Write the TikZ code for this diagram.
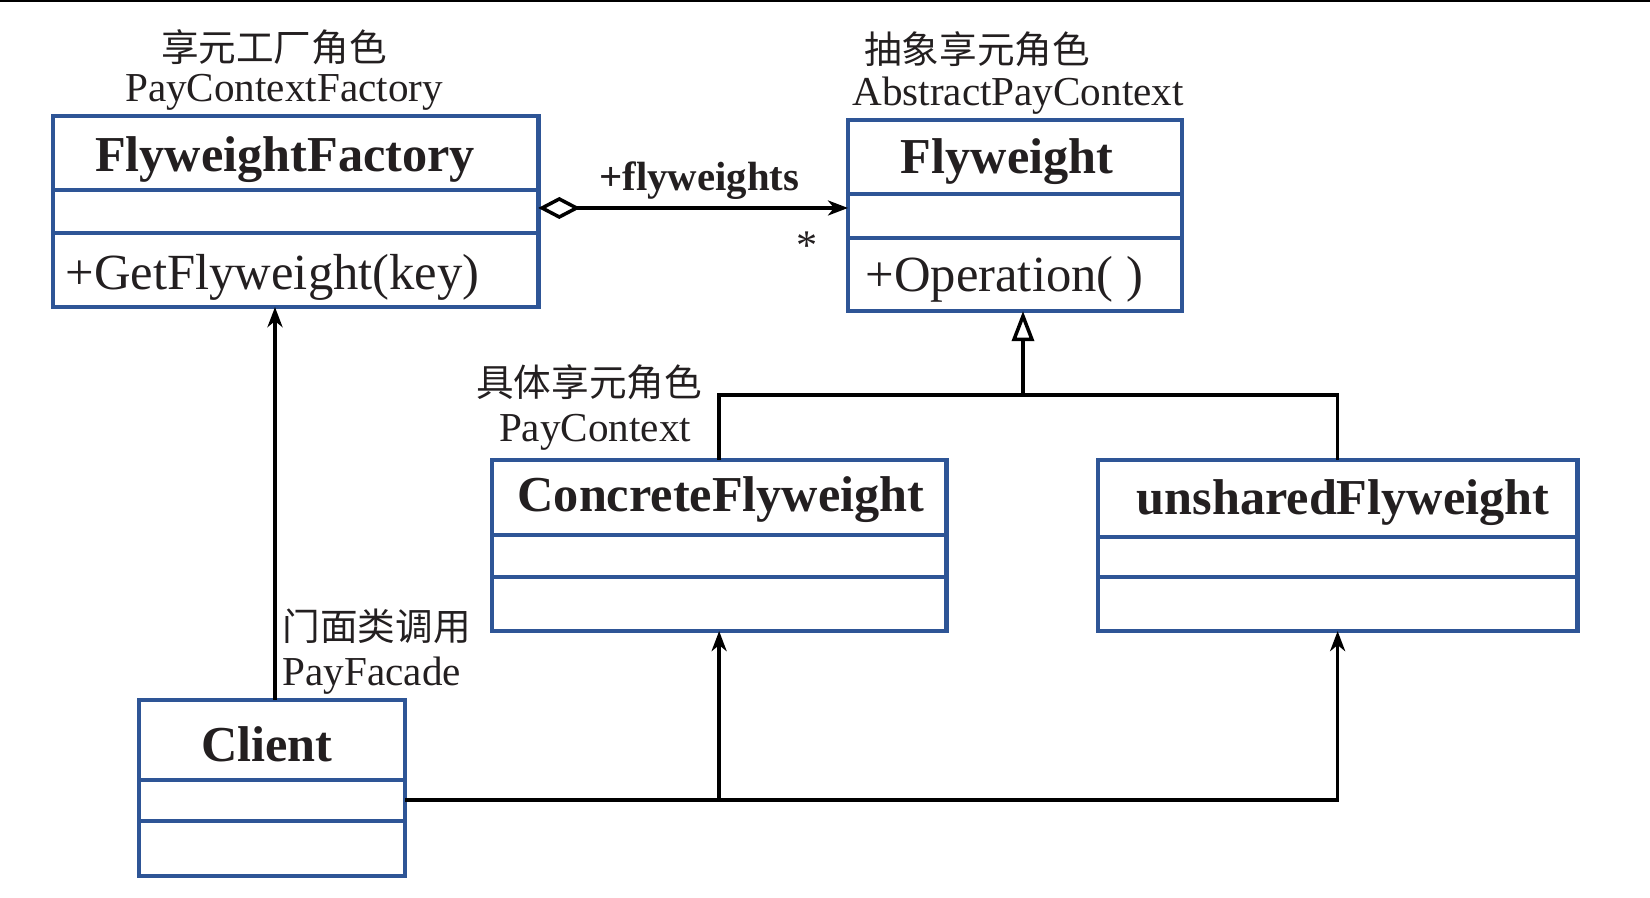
\documentclass[tikz,border=0pt]{standalone}
\usepackage{fontspec}
\setmainfont{Liberation Serif}
\newfontfamily\cjk{Noto Sans CJK SC}
\usetikzlibrary{arrows.meta,positioning}
\definecolor{boxblue}{RGB}{46,85,150}
\definecolor{ink}{RGB}{35,31,32}

\begin{document}
\begin{tikzpicture}[x=0.01cm,y=-0.01cm,>={Stealth[length=0.2cm,width=0.15cm,inset=0.06cm]},
  cls/.style={draw=boxblue,line width=1.3pt,anchor=north west,inner sep=0pt,outer sep=0pt},
  div/.style={draw=boxblue,line width=1.3pt},
  ttl/.style={font=\fontsize{14.3}{16}\selectfont\bfseries,text=ink,anchor=base,inner sep=0pt},
  mth/.style={font=\fontsize{14.4}{16}\selectfont,text=ink,anchor=base west,inner sep=0pt},
  note/.style={font=\fontsize{11.7}{13}\selectfont,text=ink,anchor=base,inner sep=0pt},
  role/.style={font=\cjk\fontsize{10.7}{12}\selectfont,text=ink,inner sep=0pt},
  link/.style={draw=black,line width=1pt}]
\useasboundingbox (0,0) rectangle (1650,898);
\draw[black,line width=0.6pt] (0,1) -- (1650,1);

% classes
\node[cls,minimum width=4.85cm,minimum height=1.91cm] (fact) at (53,116) {};
\draw[div] (fact.west |- 0,190) -- (fact.east |- 0,190);
\draw[div] (fact.west |- 0,233) -- (fact.east |- 0,233);
\node[ttl] (fact-t) at (285,172) {FlyweightFactory};
\node[mth] (fact-m) at (65,290) {+GetFlyweight(key)};

\node[cls,minimum width=3.34cm,minimum height=1.91cm] (fly) at (848,120) {};
\draw[div] (fly.west |- 0,194) -- (fly.east |- 0,194);
\draw[div] (fly.west |- 0,238) -- (fly.east |- 0,238);
\node[ttl] (fly-t) at (1007,174) {Flyweight};
\node[mth] (fly-m) at (865,292) {+Operation( )};

\node[cls,minimum width=4.54cm,minimum height=1.71cm] (conc) at (492,460) {};
\draw[div] (conc.west |- 0,535) -- (conc.east |- 0,535);
\draw[div] (conc.west |- 0,577) -- (conc.east |- 0,577);
\node[ttl] (conc-t) at (721,512) {ConcreteFlyweight};

\node[cls,minimum width=4.79cm,minimum height=1.71cm] (uns) at (1098,460) {};
\draw[div] (uns.west |- 0,537) -- (uns.east |- 0,537);
\draw[div] (uns.west |- 0,577) -- (uns.east |- 0,577);
\node[ttl] (uns-t) at (1343,515) {unsharedFlyweight};

\node[cls,minimum width=2.66cm,minimum height=1.76cm] (client) at (139,700) {};
\draw[div] (client.west |- 0,780) -- (client.east |- 0,780);
\draw[div] (client.west |- 0,821) -- (client.east |- 0,821);
\node[ttl] (client-t) at (267,762) {Client};

% role labels
\node[role] (fact-r) at (274,47) {享元工厂角色};
\node[note] (fact-n) at (284,102) {PayContextFactory};
\node[role] (fly-r) at (977,49) {抽象享元角色};
\node[note] (fly-n) at (1018,106) {AbstractPayContext};
\node[role] (conc-r) at (589,382) {具体享元角色};
\node[note] (conc-n) at (595,442) {PayContext};
\node[role,anchor=west] (client-r) at (282,626) {门面类调用};
\node[note,anchor=base west] (client-n) at (282,686) {PayFacade};

% connectors
\draw[link,{Diamond[open,length=0.42cm,width=0.22cm]}->] (fact.east |- 0,208) -- (fly.west |- 0,208)
  node[pos=0.52,above=0.07cm,font=\fontsize{11.6}{13}\selectfont\bfseries,text=ink,inner sep=0pt] (agg) {+flyweights};
\node[font=\fontsize{12}{13}\selectfont,text=ink] (mult) at (807,246) {*};

\coordinate (bus) at (1023,395);
\draw[link,-{Triangle[open,length=0.3cm,width=0.22cm]}] (bus) -- (bus |- fly.south);
\draw[link] (conc.north) |- (bus) -| (uns.north);

\coordinate (callx) at (275,0);
\draw[link,->] (client.north -| callx) -- (fact.south -| callx);

\coordinate (low) at (0,800);
\draw[link,->] (client.east |- low) -| (uns.south);
\draw[link,->] (conc.south |- low) -- (conc.south);
\end{tikzpicture}
\end{document}
